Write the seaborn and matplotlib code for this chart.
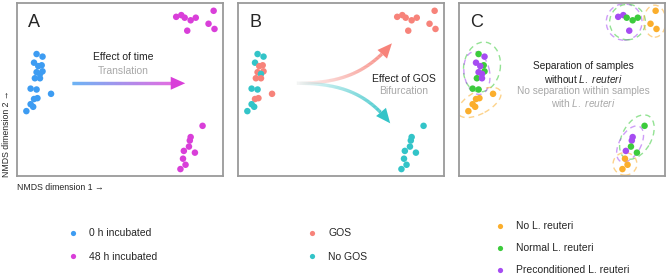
import numpy as np
import pandas as pd
import matplotlib
matplotlib.use("Agg")
import matplotlib.pyplot as plt
import seaborn as sns
from matplotlib.collections import LineCollection
from matplotlib.patches import Polygon, Ellipse
from matplotlib.colors import to_rgba

# NMDS coordinates
x_start = [-0.97, -0.90, -1.00, -0.91, -0.95, -0.90, -0.97, -0.93, -0.99,
           -0.93, -1.04, -0.97, -0.80, -0.96, -1.00, -1.04, -1.01, -1.09]
y_start = [0.41, 0.38, 0.31, 0.28, 0.27, 0.21, 0.20, 0.18, 0.13,
           0.13, 0.01, 0.00, -0.05, -0.10, -0.11, -0.17, -0.20, -0.25]
x_top = [0.67, 0.73, 0.77, 0.84, 0.90, 1.11, 1.05, 1.12, 0.80]
y_top = [0.84, 0.86, 0.83, 0.80, 0.83, 0.91, 0.76, 0.70, 0.68]
x_bot = [0.98, 0.84, 0.83, 0.82, 0.76, 0.89, 0.75, 0.78, 0.72]
y_bot = [-0.42, -0.55, -0.59, -0.66, -0.71, -0.73, -0.80, -0.87, -0.92]

time_labels = ["0 h incubated", "48 h incubated"]
gos_labels = ["GOS", "No GOS"]
reuteri_labels = ["No L. reuteri", "Normal L. reuteri", "Preconditioned L. reuteri"]

gos_start = ["No GOS", "No GOS", "No GOS", "GOS", "GOS", "GOS", "GOS", "No GOS", "GOS",
             "GOS", "No GOS", "No GOS", "GOS", "GOS", "GOS", "No GOS", "No GOS", "No GOS"]
N, R, P = reuteri_labels
reu_start = [R, P, P, R, P, R, P, P, R, P, R, R, N, N, N, N, N, N]
reu_top = [P, P, R, R, R, N, N, N, P]
reu_bot = [R, P, P, R, P, R, N, N, N]

# dashed group ellipses in panel C: (group, x, y, width, height, angle)
ellipses = [
    (P, 0.74, 0.78, 0.42, 0.42, 0), (R, 0.78, 0.78, 0.42, 0.41, 0), (N, 1.10, 0.79, 0.26, 0.37, 0),
    (R, -0.93, 0.26, 0.58, 0.43, 80), (P, -0.99, 0.19, 0.50, 0.30, 100), (N, -0.96, -0.15, 0.56, 0.26, 28),
    (R, 0.89, -0.55, 0.56, 0.34, 60), (P, 0.81, -0.63, 0.46, 0.25, 60), (N, 0.75, -0.86, 0.28, 0.26, 0),
]

time_pal = {"0 h incubated": "#3d9cf2", "48 h incubated": "#d93fd9"}
gos_pal = {"GOS": "#f7837a", "No GOS": "#33c4c8"}
reu_pal = {N: "#fbae2c", R: "#3ccb3c", P: "#a64cf2"}

df_a = pd.DataFrame({"x": x_start + x_top + x_bot, "y": y_start + y_top + y_bot,
                     "g": [time_labels[0]] * 18 + [time_labels[1]] * 18})
df_b = pd.DataFrame({"x": x_start + x_top + x_bot, "y": y_start + y_top + y_bot,
                     "g": gos_start + ["GOS"] * 9 + ["No GOS"] * 9})
df_c = pd.DataFrame({"x": x_start + x_top + x_bot, "y": y_start + y_top + y_bot,
                     "g": reu_start + reu_top + reu_bot})

sns.set_theme(style="white")
plt.rcParams["font.family"] = ["Liberation Sans", "DejaVu Sans"]
plt.rcParams["mathtext.fontset"] = "custom"
plt.rcParams["mathtext.it"] = "Liberation Sans:italic"
plt.rcParams["mathtext.rm"] = "Liberation Sans"

fig = plt.figure(figsize=(6.68, 2.76), dpi=100)
W, H = 668, 276
lefts = [17, 238, 459]
axes = [fig.add_axes([l / W, 1 - 176 / H, 206 / W, 173 / H]) for l in lefts]


def grad_line(ax, xs, ys, c0, c1, lw=2.4):
    pts = np.column_stack([xs, ys])
    segs = np.stack([pts[:-1], pts[1:]], axis=1)
    t = np.linspace(0, 1, len(segs))[:, None]
    cols = (1 - t) * np.array(to_rgba(c0)) + t * np.array(to_rgba(c1))
    ax.add_collection(LineCollection(segs, colors=cols, linewidths=lw, capstyle="butt", zorder=1))


def head(ax, tip, direction, color, length=0.17, half=0.075):
    d = np.array(direction) / np.hypot(*direction)
    n = np.array([-d[1], d[0]])
    tip = np.array(tip)
    base = tip - d * length
    ax.add_patch(Polygon([tip, base + n * half, base - n * half], closed=True,
                         color=color, lw=0, zorder=2))
    return base


def bezier(p0, c1, c2, p3, n=120):
    t = np.linspace(0, 1, n)[:, None]
    p0, c1, c2, p3 = map(np.array, (p0, c1, c2, p3))
    return ((1 - t) ** 3 * p0 + 3 * (1 - t) ** 2 * t * c1 + 3 * (1 - t) * t ** 2 * c2 + t ** 3 * p3)


for ax, df, pal, letter in zip(axes, [df_a, df_b, df_c], [time_pal, gos_pal, reu_pal], "ABC"):
    sns.scatterplot(data=df, x="x", y="y", hue="g", palette=pal, hue_order=list(pal),
                    s=22, linewidth=0, ax=ax, zorder=3)
    ax.set_xlim(-1.2, 1.22)
    ax.set_ylim(-1.0, 1.0)
    ax.set_xticks([])
    ax.set_yticks([])
    ax.set_xlabel("")
    ax.set_ylabel("")
    for sp in ax.spines.values():
        sp.set_color("#9a9a9a")
        sp.set_linewidth(1.3)
    ax.text(0.055, 0.89, letter, transform=ax.transAxes, fontsize=13, va="center", ha="left")

# panel A: straight gradient arrow
ax = axes[0]
base = head(ax, (0.776, 0.072), (1, 0), time_pal["48 h incubated"])
xs = np.linspace(-0.557, base[0], 100)
grad_line(ax, xs, np.full_like(xs, 0.072), time_pal["0 h incubated"], time_pal["48 h incubated"])
ax.text(0.05, 0.38, "Effect of time", fontsize=7.5, ha="center", va="center", color="#222222")
ax.text(0.05, 0.215, "Translation", fontsize=7.5, ha="center", va="center", color="#a8a8a8")

# panel B: bifurcating arrows
ax = axes[1]
for c2, tip, col in [((0.31, 0.19), (0.608, 0.534), gos_pal["GOS"]),
                     ((0.31, -0.04), (0.588, -0.391), gos_pal["No GOS"])]:
    curve = bezier((-0.509, 0.072), (0.0, 0.072), c2, tip)
    d = curve[-1] - curve[-6]
    base = head(ax, tip, d, col)
    keep = np.linalg.norm(curve - curve[-1], axis=1) >= 0.17
    cv = np.vstack([curve[keep], base])
    grad_line(ax, cv[:, 0], cv[:, 1], to_rgba(col, 0.05), col)
ax.text(0.75, 0.12, "Effect of GOS", fontsize=7.5, ha="center", va="center", color="#222222")
ax.text(0.75, -0.02, "Bifurcation", fontsize=7.5, ha="center", va="center", color="#a8a8a8")

# panel C: dashed ellipses and text
ax = axes[2]
for g, ex, ey, ew, eh, ang in ellipses:
    ax.add_patch(Ellipse((ex, ey), ew, eh, angle=ang, fill=False, ls=(0, (4, 3)),
                         lw=1.0, ec=reu_pal[g], alpha=0.55, zorder=2))
c_lines = [("Separation of samples", "#222222", 0.275),
           ("without $\\mathit{L.\\ reuteri}$", "#222222", 0.125),
           ("No separation within samples", "#a8a8a8", -0.015),
           ("with $\\mathit{L.\\ reuteri}$", "#a8a8a8", -0.16)]
for txt, col, yy in c_lines:
    ax.text(0.26, yy, txt, fontsize=7.3, ha="center", va="center", color=col)

# legends below each panel
legend_pos = [(62 / W, 1 - 223 / H, 1.3), (301 / W, 1 - 223 / H, 1.3), (489 / W, 1 - 216 / H, 1.15)]
for ax, (lx, ly, sp) in zip(axes, legend_pos):
    sns.move_legend(ax, "upper left", bbox_to_anchor=(lx, ly), bbox_transform=fig.transFigure,
                    frameon=False, title=None, fontsize=7.5, handlelength=1.2,
                    handletextpad=0.9, labelspacing=sp, borderpad=0, markerscale=0.8)

fig.text(17 / W, 1 - 188 / H, "NMDS dimension 1 \u2192", fontsize=6.3, ha="left", va="center")
fig.text(7 / W, 1 - 177 / H, "NMDS dimension 2 \u2192", fontsize=6.3, ha="center", va="bottom",
         rotation=90)

fig.savefig("out.png", dpi=100)
